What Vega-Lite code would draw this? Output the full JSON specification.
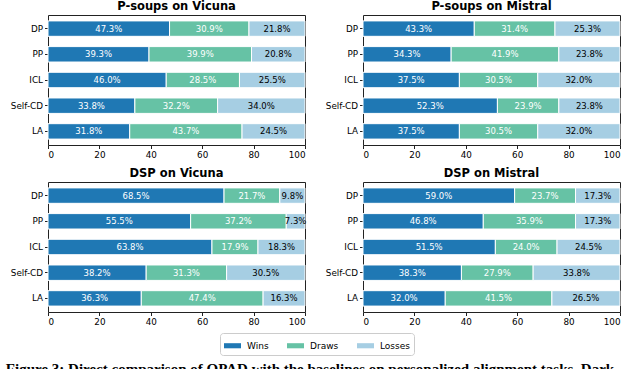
{
  "$schema": "https://vega.github.io/schema/vega-lite/v6.json",
  "padding": {"left": 5, "top": 0, "right": 0, "bottom": 0},
  "background": "white",
  "data": {"values": [
    {"p": "P-soups on Vicuna", "m": "DP", "o": "Wins", "v": 0.473},
    {"p": "P-soups on Vicuna", "m": "DP", "o": "Draws", "v": 0.309},
    {"p": "P-soups on Vicuna", "m": "DP", "o": "Losses", "v": 0.218},
    {"p": "P-soups on Vicuna", "m": "PP", "o": "Wins", "v": 0.393},
    {"p": "P-soups on Vicuna", "m": "PP", "o": "Draws", "v": 0.399},
    {"p": "P-soups on Vicuna", "m": "PP", "o": "Losses", "v": 0.208},
    {"p": "P-soups on Vicuna", "m": "ICL", "o": "Wins", "v": 0.460},
    {"p": "P-soups on Vicuna", "m": "ICL", "o": "Draws", "v": 0.285},
    {"p": "P-soups on Vicuna", "m": "ICL", "o": "Losses", "v": 0.255},
    {"p": "P-soups on Vicuna", "m": "Self-CD", "o": "Wins", "v": 0.338},
    {"p": "P-soups on Vicuna", "m": "Self-CD", "o": "Draws", "v": 0.322},
    {"p": "P-soups on Vicuna", "m": "Self-CD", "o": "Losses", "v": 0.340},
    {"p": "P-soups on Vicuna", "m": "LA", "o": "Wins", "v": 0.318},
    {"p": "P-soups on Vicuna", "m": "LA", "o": "Draws", "v": 0.437},
    {"p": "P-soups on Vicuna", "m": "LA", "o": "Losses", "v": 0.245},
    {"p": "P-soups on Mistral", "m": "DP", "o": "Wins", "v": 0.433},
    {"p": "P-soups on Mistral", "m": "DP", "o": "Draws", "v": 0.314},
    {"p": "P-soups on Mistral", "m": "DP", "o": "Losses", "v": 0.253},
    {"p": "P-soups on Mistral", "m": "PP", "o": "Wins", "v": 0.343},
    {"p": "P-soups on Mistral", "m": "PP", "o": "Draws", "v": 0.419},
    {"p": "P-soups on Mistral", "m": "PP", "o": "Losses", "v": 0.238},
    {"p": "P-soups on Mistral", "m": "ICL", "o": "Wins", "v": 0.375},
    {"p": "P-soups on Mistral", "m": "ICL", "o": "Draws", "v": 0.305},
    {"p": "P-soups on Mistral", "m": "ICL", "o": "Losses", "v": 0.320},
    {"p": "P-soups on Mistral", "m": "Self-CD", "o": "Wins", "v": 0.523},
    {"p": "P-soups on Mistral", "m": "Self-CD", "o": "Draws", "v": 0.239},
    {"p": "P-soups on Mistral", "m": "Self-CD", "o": "Losses", "v": 0.238},
    {"p": "P-soups on Mistral", "m": "LA", "o": "Wins", "v": 0.375},
    {"p": "P-soups on Mistral", "m": "LA", "o": "Draws", "v": 0.305},
    {"p": "P-soups on Mistral", "m": "LA", "o": "Losses", "v": 0.320},
    {"p": "DSP on Vicuna", "m": "DP", "o": "Wins", "v": 0.685},
    {"p": "DSP on Vicuna", "m": "DP", "o": "Draws", "v": 0.217},
    {"p": "DSP on Vicuna", "m": "DP", "o": "Losses", "v": 0.098},
    {"p": "DSP on Vicuna", "m": "PP", "o": "Wins", "v": 0.555},
    {"p": "DSP on Vicuna", "m": "PP", "o": "Draws", "v": 0.372},
    {"p": "DSP on Vicuna", "m": "PP", "o": "Losses", "v": 0.073},
    {"p": "DSP on Vicuna", "m": "ICL", "o": "Wins", "v": 0.638},
    {"p": "DSP on Vicuna", "m": "ICL", "o": "Draws", "v": 0.179},
    {"p": "DSP on Vicuna", "m": "ICL", "o": "Losses", "v": 0.183},
    {"p": "DSP on Vicuna", "m": "Self-CD", "o": "Wins", "v": 0.382},
    {"p": "DSP on Vicuna", "m": "Self-CD", "o": "Draws", "v": 0.313},
    {"p": "DSP on Vicuna", "m": "Self-CD", "o": "Losses", "v": 0.305},
    {"p": "DSP on Vicuna", "m": "LA", "o": "Wins", "v": 0.363},
    {"p": "DSP on Vicuna", "m": "LA", "o": "Draws", "v": 0.474},
    {"p": "DSP on Vicuna", "m": "LA", "o": "Losses", "v": 0.163},
    {"p": "DSP on Mistral", "m": "DP", "o": "Wins", "v": 0.590},
    {"p": "DSP on Mistral", "m": "DP", "o": "Draws", "v": 0.237},
    {"p": "DSP on Mistral", "m": "DP", "o": "Losses", "v": 0.173},
    {"p": "DSP on Mistral", "m": "PP", "o": "Wins", "v": 0.468},
    {"p": "DSP on Mistral", "m": "PP", "o": "Draws", "v": 0.359},
    {"p": "DSP on Mistral", "m": "PP", "o": "Losses", "v": 0.173},
    {"p": "DSP on Mistral", "m": "ICL", "o": "Wins", "v": 0.515},
    {"p": "DSP on Mistral", "m": "ICL", "o": "Draws", "v": 0.240},
    {"p": "DSP on Mistral", "m": "ICL", "o": "Losses", "v": 0.245},
    {"p": "DSP on Mistral", "m": "Self-CD", "o": "Wins", "v": 0.383},
    {"p": "DSP on Mistral", "m": "Self-CD", "o": "Draws", "v": 0.279},
    {"p": "DSP on Mistral", "m": "Self-CD", "o": "Losses", "v": 0.338},
    {"p": "DSP on Mistral", "m": "LA", "o": "Wins", "v": 0.320},
    {"p": "DSP on Mistral", "m": "LA", "o": "Draws", "v": 0.415},
    {"p": "DSP on Mistral", "m": "LA", "o": "Losses", "v": 0.265}
  ]},
  "transform": [{"stack": "v", "groupby": ["p", "m"], "as": ["v0", "v1"]}],
  "facet": {
    "field": "p", "type": "nominal",
    "sort": ["P-soups on Vicuna", "P-soups on Mistral", "DSP on Vicuna", "DSP on Mistral"],
    "title": null,
    "header": {"labelFont": "DejaVu Sans", "labelFontSize": 11.5, "labelFontWeight": "bold", "labelColor": "black", "labelPadding": 3}
  },
  "columns": 2,
  "spacing": {"row": 7, "column": 17},
  "spec": {
    "width": 257,
    "height": 130,
    "layer": [
      {
        "mark": {"type": "bar", "stroke": "white", "strokeWidth": 1},
        "encoding": {
          "y": {"field": "m", "type": "nominal", "sort": ["DP", "PP", "ICL", "Self-CD", "LA"],
                "scale": {"paddingInner": 0.4, "paddingOuter": 0.23}, "axis": {"title": null}},
          "x": {"field": "v0", "type": "quantitative", "scale": {"domain": [0, 1], "nice": false},
                "axis": {"title": null, "values": [0, 0.2, 0.4, 0.6, 0.8, 1], "labelExpr": "format(datum.value*100, 'd')"}},
          "x2": {"field": "v1"},
          "color": {"field": "o", "type": "nominal",
                    "scale": {"domain": ["Wins", "Draws", "Losses"], "range": ["#1f78b4", "#66c2a5", "#a6cee3"]},
                    "legend": {"title": null, "orient": "none", "legendX": 172, "legendY": 318}}
        }
      },
      {
        "transform": [{"fold": ["v0", "v1"], "as": ["edge", "pos"]}],
        "mark": {"type": "text", "font": "DejaVu Sans", "fontSize": 8.5},
        "encoding": {
          "y": {"field": "m", "type": "nominal", "sort": ["DP", "PP", "ICL", "Self-CD", "LA"]},
          "x": {"field": "pos", "type": "quantitative", "aggregate": "mean"},
          "text": {"field": "v", "type": "quantitative", "aggregate": "max", "format": ".1%"},
          "detail": [{"field": "o", "type": "nominal"}, {"field": "p", "type": "nominal"}],
          "color": {"condition": {"test": "datum.o === 'Losses'", "value": "black"}, "value": "white"}
        }
      }
    ]
  },
  "resolve": {"axis": {"x": "independent", "y": "independent"}},
  "title": {
    "text": "Figure 3: Direct comparison of OPAD with the baselines on personalized alignment tasks. Dark",
    "orient": "bottom", "anchor": "start", "font": "Liberation Serif", "fontSize": 15,
    "fontWeight": "bold", "color": "black", "offset": 6, "dx": -4
  },
  "config": {
    "view": {"stroke": "#222", "strokeWidth": 1},
    "axis": {"domain": false, "grid": false, "tickColor": "#222", "tickSize": 3.5, "labelFont": "DejaVu Sans",
             "labelFontSize": 8.8, "labelColor": "black", "labelPadding": 2},
    "legend": {"direction": "horizontal", "labelFont": "DejaVu Sans", "labelFontSize": 9,
               "labelColor": "black", "symbolType": "M-1,-0.3H1V0.3H-1Z", "symbolSize": 289,
               "symbolStrokeWidth": 0, "symbolOpacity": 1, "strokeColor": "#cccccc", "padding": 4,
               "cornerRadius": 3, "columnPadding": 18, "labelOffset": 6}
  }
}
